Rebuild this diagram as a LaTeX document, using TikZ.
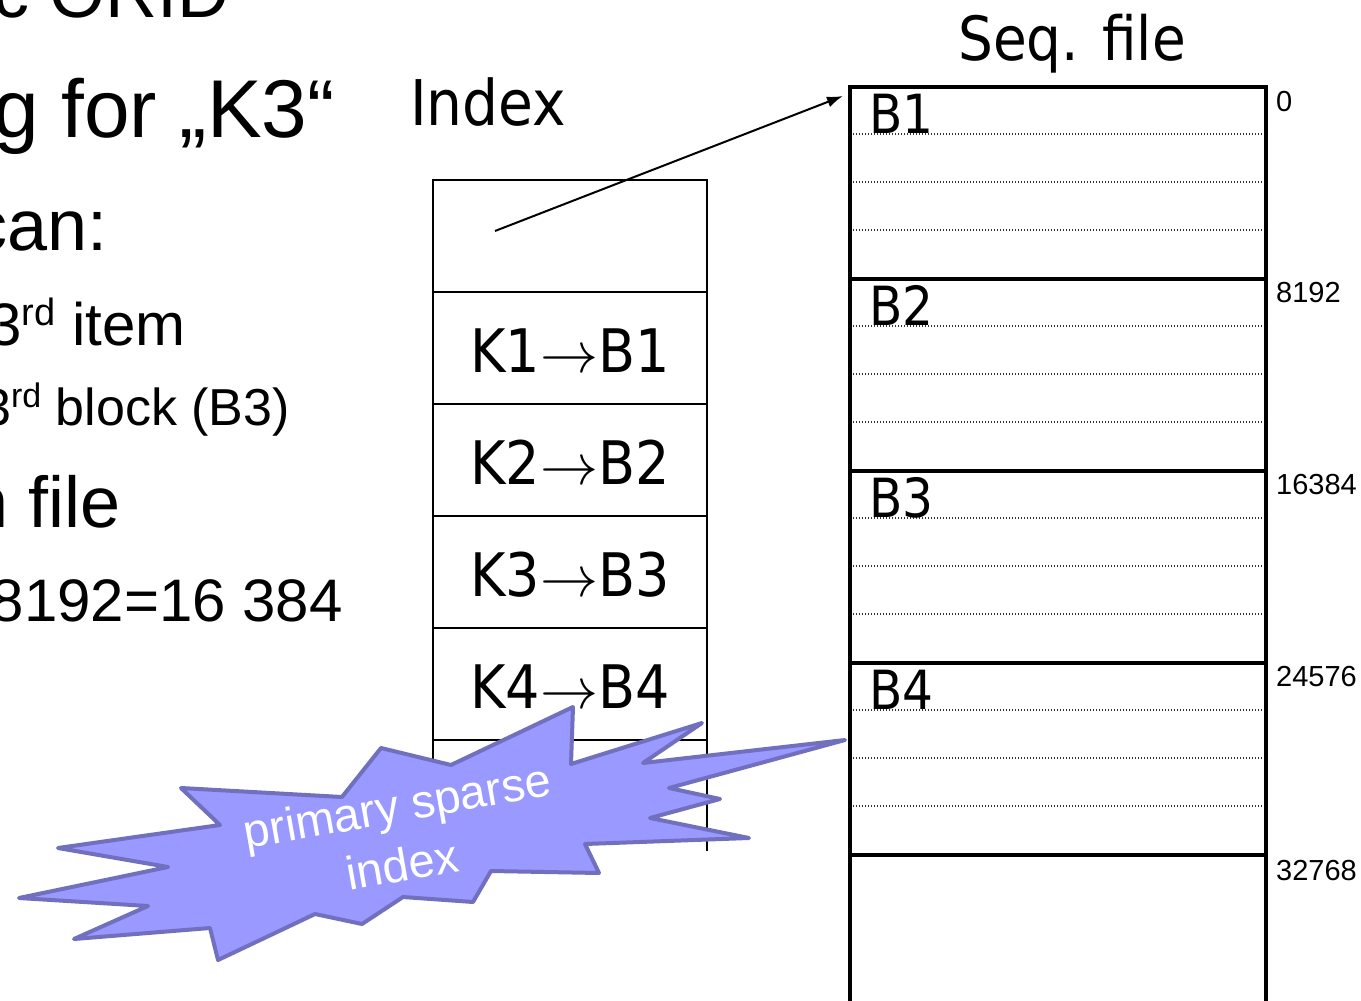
\RequirePackage{fix-cm}
\documentclass[tikz,border=0pt]{standalone}
\usepackage{fontspec}
\setmainfont{Liberation Sans}
\newfontfamily\tah[FakeStretch=0.9]{DejaVu Sans}
\usetikzlibrary{arrows.meta}
\newcommand{\fs}[1]{\fontsize{#1}{#1}\selectfont}
\newcommand{\supr}[2]{\raisebox{0.33em}{\fontsize{#1}{#1}\selectfont #2}}
\newcommand{\kbarrow}{{\fontsize{58}{58}\selectfont\(\rightarrow\)}}
\definecolor{starfill}{RGB}{153,153,255}
\definecolor{stardraw}{RGB}{112,112,190}
\begin{document}
\begin{tikzpicture}[x=1pt,y=-1pt,
  lefttext/.style={anchor=base east, inner sep=0pt, text=black},
  cell/.style={draw, line width=1.5pt, minimum width=274pt, minimum height=112pt, inner sep=0pt, outer sep=0pt, anchor=north west},
  celltext/.style={anchor=base, inner sep=0pt, font=\tah\fs{60}},
  blockbox/.style={draw, line width=4pt, minimum width=416pt, minimum height=192pt, inner sep=0pt, outer sep=0pt, anchor=north west},
  blocklabel/.style={anchor=base west, inner sep=0pt, font=\tah\fs{54}},
  offset/.style={anchor=base west, inner sep=0pt, font=\fs{29}},
  dotline/.style={line width=1.2pt, dash pattern=on 1.2pt off 1.8pt, black!80},
  title/.style={anchor=base west, inner sep=0pt, font=\tah\fs{63}},
  star/.style={fill=starfill, draw=stardraw, line width=4pt, line join=round},
  startext/.style={anchor=base, inner sep=0pt, text=white, font=\fs{47}, rotate=10}
]
\useasboundingbox (0,0) rectangle (1361,1001);
\clip (0,0) rectangle (1361,1001);
\fill[white] (0,0) rectangle (1361,1001);

% left slide text (cut off at the left)
\node[lefttext, font=\fs{72}] (l0) at (230,17) {c ORID};
\node[lefttext, font=\fs{82}] (l1) at (335,137) {g for „K3“};
\node[lefttext, font=\fs{72}] (l2) at (108,250) {can:};
\node[lefttext, font=\fs{60}] (l3) at (186,345) {3\supr{38}{rd} item};
\node[lefttext, font=\fs{52}] (l4) at (290,425) {3\supr{34}{rd} block (B3)};
\node[lefttext, font=\fs{72}] (l5) at (121,527) {n file};
\node[lefttext, font=\fs{60}] (l6) at (343,621) {8192=16 384};

% titles
\node[title] (idxtitle) at (410,125) {Index};
\node[title, font=\tah\fs{61}] (seqtitle) at (958,60) {Seq. file};

% index table
\node[cell] (c0) at (433,180) {};
\node[cell] (c1) at (433,292) {};
\node[cell] (c2) at (433,404) {};
\node[cell] (c3) at (433,516) {};
\node[cell] (c4) at (433,628) {};
\draw[line width=1.5pt] (c4.south west) -- ++(0,111);
\draw[line width=1.5pt] (c4.south east) -- ++(0,111);
\node[celltext] (k1) at (570,372) {K1\kbarrow B1};
\node[celltext] (k2) at (570,484) {K2\kbarrow B2};
\node[celltext] (k3) at (570,596) {K3\kbarrow B3};
\node[celltext] (k4) at (570,708) {K4\kbarrow B4};

% sequential file
\foreach \i/\t in {1/87,2/279,3/471,4/663}{
  \node[blockbox] (blk\i) at (850,\t) {};
  \foreach \d in {47,95,143}{
    \draw[dotline] (853,\t+\d) -- (1264,\t+\d);
  }
}
\node[blockbox, minimum height=220pt] (blk5) at (850,855) {};
\node[blocklabel] (bl1) at (869,133) {B1};
\node[blocklabel] (bl2) at (869,325) {B2};
\node[blocklabel] (bl3) at (869,517) {B3};
\node[blocklabel] (bl4) at (869,709) {B4};
\node[offset] (o0) at (1276,111) {0};
\node[offset] (o1) at (1276,302) {8192};
\node[offset] (o2) at (1276,494) {16384};
\node[offset] (o3) at (1276,686) {24576};
\node[offset] (o4) at (1276,880) {32768};

% pointer arrow
\coordinate (ptr) at (495,231);
\coordinate (b1in) at ([xshift=-7pt,yshift=-9pt]blk1.north west);
\draw[line width=2pt, -{Latex[length=16pt,width=11pt]}] (ptr) -- (b1in);

% explosion callout
\draw[star] (19,898) -- (148,906) -- (74,939) -- (210,928) -- (218,960)
  -- (315,914) -- (362,924) -- (403,897) -- (473,902) -- (491,871)
  -- (599,873) -- (585,844) -- (749,838) -- (650,818) -- (720,799)
  -- (669,788) -- (845,740) -- (643,763) -- (702,723) -- (571,764)
  -- (573,707) -- (451,765) -- (381,748) -- (342,797) -- (181,788)
  -- (220,825) -- (58,848) -- (168,867) -- cycle;
\node[startext] (st1) at (400,822) {primary sparse};
\node[startext] (st2) at (405,881) {index};
\end{tikzpicture}
\end{document}
